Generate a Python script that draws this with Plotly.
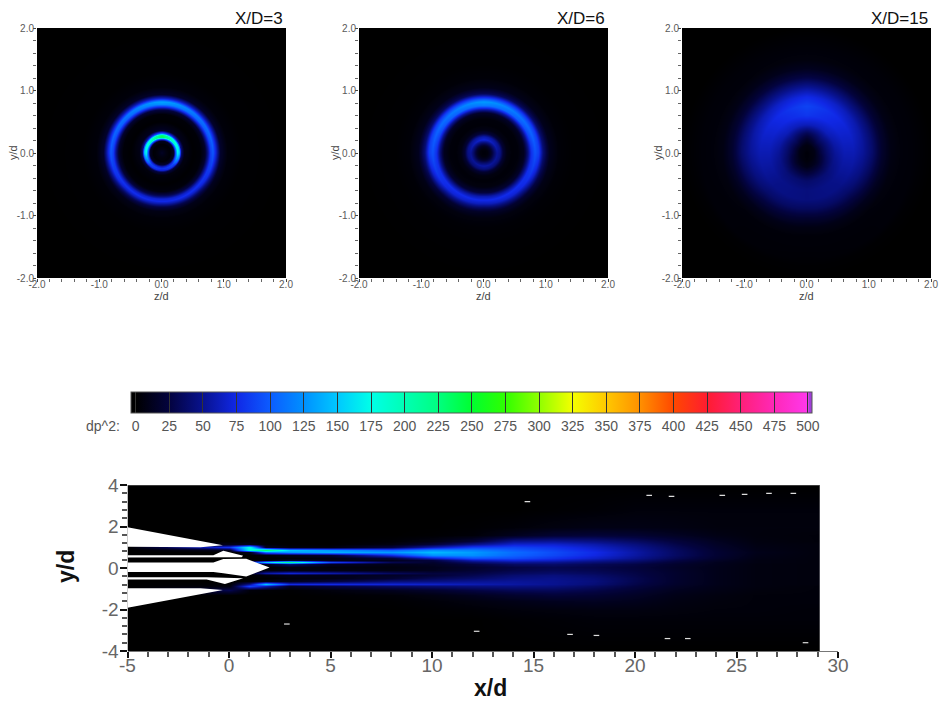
import numpy as np
import plotly.graph_objects as go

W, H = 939, 702

# ---------- colour scale ----------
cbar_levels = [-3.5, 0, 25, 50, 75, 100, 125, 150, 175, 200, 225, 250, 275, 300, 325, 350, 375, 400, 425, 450, 475, 500, 501, 503]
cbar_colors = ["#000000", "#000000", "#03033f", "#08128f", "#1028e6", "#0c5cff", "#0090ff", "#00c8ff", "#00ffe8", "#00ffb4", "#00ff80",
               "#00ff30", "#30ff00", "#90ff00", "#f4ff00", "#ffc800", "#ff9000", "#ff4800", "#ff1c30", "#ff2078", "#ff28b8", "#ff38ec", "#a040d8", "#a040d8"]
legend_ticks = list(range(0, 501, 25))

# ---------- cross-section panels: values read per radius (rows: angle from top, 0/45/90/135/180 deg) ----------
panel_titles = ["X/D=3", "X/D=6", "X/D=15"]
angles_deg = [0, 45, 90, 135, 180]

radii_3 = [0, .08, .14, .19, .22, .25, .28, .31, .36, .5, .62, .69, .74, .78, .82, .87, .94, 1.05, 1.25, 2]
prof_3 = [
    [14, 5, 2, 12, 90, 240, 235, 110, 15, 1, 3, 25, 80, 125, 135, 70, 16, 4, 1, 0],
    [14, 5, 2, 12, 90, 195, 175, 65, 12, 1, 3, 20, 70, 105, 112, 65, 16, 4, 1, 0],
    [14, 5, 2, 15, 100, 170, 150, 40, 8, 1, 3, 15, 50, 85, 98, 68, 18, 4, 1, 0],
    [14, 5, 3, 15, 70, 92, 80, 25, 5, 1, 4, 25, 62, 80, 65, 35, 10, 3, 1, 0],
    [14, 5, 4, 20, 60, 80, 70, 25, 5, 1, 5, 35, 70, 75, 55, 25, 8, 3, 1, 0],
]

radii_6 = [0, .06, .11, .16, .21, .26, .31, .37, .45, .55, .64, .7, .76, .82, .88, .95, 1.05, 1.2, 1.4, 2]
prof_6 = [
    [3, 5, 15, 40, 72, 58, 24, 8, 3, 4, 16, 60, 115, 130, 85, 32, 10, 3, 1, 0],
    [3, 5, 15, 38, 62, 52, 22, 8, 3, 4, 15, 52, 100, 112, 85, 35, 10, 3, 1, 0],
    [3, 5, 15, 35, 52, 46, 20, 7, 3, 4, 12, 40, 78, 95, 85, 42, 12, 3, 1, 0],
    [3, 5, 14, 34, 52, 42, 18, 6, 3, 5, 18, 50, 78, 72, 48, 20, 6, 2, 1, 0],
    [3, 5, 15, 38, 56, 44, 18, 6, 3, 6, 25, 60, 76, 60, 34, 14, 5, 2, 1, 0],
]

radii_15 = [0, .12, .22, .32, .45, .6, .75, .9, 1.05, 1.2, 1.35, 1.5, 1.7, 1.8, 2]
prof_15 = [
    [3, 6, 16, 32, 62, 82, 88, 75, 52, 28, 12, 5, 3, 2, 0],
    [3, 8, 28, 42, 62, 72, 74, 62, 42, 22, 9, 4, 3, 2, 0],
    [3, 8, 25, 38, 52, 60, 60, 52, 38, 18, 7, 4, 3, 2, 0],
    [3, 6, 14, 28, 42, 48, 47, 38, 24, 10, 4, 3, 3, 1, 0],
    [3, 4, 8, 22, 38, 44, 44, 34, 18, 7, 3, 3, 2, 1, 0],
]

# ---------- longitudinal panel: value table ----------
long_x = [-5, 0, 1, 1.8, 3, 5, 8, 10, 12, 14, 16, 18, 20, 22, 24, 26, 29.1]
long_y = [-4, -2.5, -2, -1.6, -1.3, -1.05, -.88, -.76, -.65, -.5, -.35, -.22, -.08, .05, .18, .28, .38, .5, .65, .78, .88, 1, 1.15, 1.3, 1.6, 2, 2.8, 4]
long_z = [
    [0, 0, 0, 0, 0, 0, 0, 0, 0, 0, 0, 0, 0, 0, 0, 0, 0],
    [0, 0, 0, 0, 0, 0, 0, 0, 0, 1, 2, 3, 3, 3, 3, 3, 3],
    [0, 0, 0, 0, 0, 0, 0, 1, 2, 4, 5, 6, 6, 5, 4, 4, 3],
    [0, 0, 0, 0, 0, 0, 1, 3, 6, 9, 12, 13, 11, 7, 5, 4, 4],
    [0, 0, 0, 0, 0, 1, 3, 7, 12, 18, 22, 20, 15, 9, 6, 4, 4],
    [0, 30, 4, 2, 1, 5, 12, 18, 26, 32, 33, 28, 20, 12, 8, 5, 4],
    [0, 5, 90, 60, 15, 25, 35, 40, 44, 46, 44, 36, 25, 15, 9, 6, 4],
    [0, 2, 50, 150, 75, 75, 70, 66, 60, 55, 50, 42, 28, 17, 10, 6, 5],
    [0, 0, 2, 8, 12, 24, 42, 45, 50, 52, 50, 44, 30, 18, 10, 6, 5],
    [0, 0, 0, 0, 5, 8, 20, 32, 38, 46, 48, 42, 30, 18, 10, 6, 5],
    [0, 0, 1, 5, 10, 10, 15, 22, 30, 40, 44, 38, 28, 18, 10, 6, 5],
    [0, 0, 10, 55, 70, 58, 34, 24, 26, 34, 38, 34, 27, 18, 10, 6, 5],
    [0, 0, 0, 5, 6, 7, 8, 12, 20, 28, 32, 30, 25, 17, 10, 6, 5],
    [0, 0, 0, 0, 6, 4, 6, 11, 18, 26, 30, 28, 24, 16, 10, 6, 5],
    [0, 0, 2, 10, 40, 12, 10, 14, 25, 36, 38, 32, 27, 18, 11, 6, 5],
    [0, 0, 60, 150, 215, 90, 30, 18, 40, 52, 50, 42, 34, 22, 12, 7, 5],
    [0, 0, 2, 1, 15, 8, 12, 25, 62, 72, 66, 54, 42, 27, 15, 7, 5],
    [0, 0, 0, 0, 2, 6, 22, 65, 95, 92, 80, 66, 50, 32, 18, 8, 5],
    [0, 0, 0, 3, 10, 20, 75, 125, 125, 104, 90, 74, 55, 36, 20, 9, 5],
    [0, 0, 10, 110, 130, 140, 130, 145, 130, 108, 92, 76, 56, 36, 20, 10, 5],
    [0, 10, 180, 230, 150, 130, 105, 125, 118, 100, 88, 72, 54, 35, 19, 9, 5],
    [0, 80, 180, 15, 5, 5, 25, 60, 85, 88, 80, 66, 50, 32, 17, 8, 5],
    [0, 10, 10, 2, 0, 0, 6, 22, 48, 68, 68, 58, 44, 28, 15, 7, 5],
    [0, 0, 2, 0, 0, 0, 2, 8, 22, 50, 52, 46, 36, 24, 13, 6, 4],
    [0, 0, 0, 0, 0, 0, 0, 1, 3, 12, 20, 22, 20, 14, 8, 5, 4],
    [0, 0, 0, 0, 0, 0, 0, 0, 1, 3, 6, 8, 8, 7, 5, 5, 5],
    [0, 0, 0, 0, 0, 0, 0, 0, 0, 0, 1, 2, 4, 4, 4, 4, 4],
    [0, 0, 0, 0, 0, 0, 0, 0, 0, 0, 0, 0, 0, 0, 0, 0, 0],
]

# nozzle solids (white) in x/d, y/d
nozzle_parts = [
    ([-5, -0.3, -1.4, -5], [1.96, 1.1, 1.0, 1.03]),
    ([-5, -0.3, -1.4, -5], [-1.92, -1.06, -0.98, -0.98]),
    ([-5, -0.77, -0.28, 0.7, 0.62, -0.77, -5], [0.62, 0.62, 0.83, 0.59, 0.52, 0.51, 0.51]),
    ([-5, -1.1, 0.7, -0.2, -1.1, -5], [-0.44, -0.44, -0.49, -0.77, -0.56, -0.56]),
    ([-5, -0.77, -0.28, 0.85, 2.0, 0.85, -0.28, -0.77, -5], [0.27, 0.27, 0.43, 0.44, 0.02, -0.41, -0.25, -0.19, -0.19]),
]
speck_x = [14.7, 20.7, 21.8, 24.3, 25.4, 26.6, 27.8, 12.2, 16.8, 18.1, 21.6, 22.6, 28.4, 2.85]
speck_y = [3.2, 3.5, 3.45, 3.5, 3.55, 3.6, 3.6, -3.05, -3.2, -3.25, -3.4, -3.4, -3.6, -2.7]
field_end = 29.1


def dom_x(a, b):
    return [a / W, b / W]


def dom_y(top, bottom):
    return [1 - bottom / H, 1 - top / H]


def polar_table_to_grid(radii, table, n=250):
    # Display resampling only: the typed polar table cannot be stored directly on a Cartesian heatmap.
    c = np.linspace(-2, 2, n)
    zz, yy = np.meshgrid(c, c)
    rr = np.hypot(zz, yy)
    th = np.degrees(np.arctan2(np.abs(zz), yy))
    stack = np.stack([np.interp(rr, radii, row) for row in table])
    idx = np.clip(np.searchsorted(angles_deg, th, side="right") - 1, 0, len(angles_deg) - 2)
    a0 = np.array(angles_deg)[idx]
    t = (th - a0) / 45.0
    ii, jj = np.indices(rr.shape)
    return c, stack[idx, ii, jj] * (1 - t) + stack[idx + 1, ii, jj] * t


fig = go.Figure()
layout = {}
panel_boxes = [(37, 286), (359, 608), (682, 931)]
panel_tables = [(radii_3, prof_3), (radii_6, prof_6), (radii_15, prof_15)]
small_ticks = [-2, -1, 0, 1, 2]
small_text = ["-2.0", "-1.0", "0.0", "1.0", "2.0"]
grey = "#5a5a5a"
annotations = []

for i, ((x0, x1), (rad, tab), name) in enumerate(zip(panel_boxes, panel_tables, panel_titles), start=1):
    c, zgrid = polar_table_to_grid(rad, tab)
    fig.add_trace(go.Heatmap(x=c, y=c, z=zgrid, coloraxis="coloraxis", xaxis=f"x{i}", yaxis=f"y{i}",
                             hovertemplate=name + " z/d %{x:.2f} y/d %{y:.2f} dp^2 %{z:.0f}<extra></extra>"))
    common = dict(range=[-2, 2], tickvals=small_ticks, ticktext=small_text, ticks="outside", ticklen=3, tickcolor="#444",
                  tickfont=dict(family="Liberation Sans", size=10, color=grey), showgrid=False, zeroline=False,
                  showline=False, minor=dict(dtick=0.2, tick0=0, ticks="outside", ticklen=3, tickcolor="#666"))
    layout[f"xaxis{i}"] = dict(common, domain=dom_x(x0, x1), anchor=f"y{i}", tickangle=0, ticklabelstandoff=-6)
    layout[f"yaxis{i}"] = dict(common, domain=dom_y(28, 278), anchor=f"x{i}", ticklabelstandoff=-3)
    annotations.append(dict(text="z/d", x=(x0 + x1) / 2 / W, y=1 - 296 / H, xref="paper", yref="paper", showarrow=False,
                            xanchor="center", yanchor="middle", font=dict(family="Liberation Sans", size=11, color="#444")))
    annotations.append(dict(text="y/d", x=(x0 - 24) / W, y=1 - 153 / H, xref="paper", yref="paper", showarrow=False, textangle=-90,
                            xanchor="center", yanchor="middle", font=dict(family="Liberation Sans", size=11, color="#444")))
    annotations.append(dict(text=name, x=(x1 - 1) / W, y=1 - 18 / H, xref="paper", yref="paper", xanchor="right", yanchor="middle",
                            showarrow=False, font=dict(family="Liberation Sans", size=17, color="#111")))

fig.add_trace(go.Heatmap(x=long_x, y=long_y, z=long_z, zsmooth="best", coloraxis="coloraxis", xaxis="x4", yaxis="y4",
                         hovertemplate="x/d %{x:.1f} y/d %{y:.2f} dp^2 %{z:.0f}<extra></extra>"))
for nx, ny in nozzle_parts:
    fig.add_trace(go.Scatter(x=nx, y=ny, mode="lines", fill="toself", fillcolor="white", line=dict(width=0, color="white"),
                             hoverinfo="skip", showlegend=False, xaxis="x4", yaxis="y4"))
fig.add_trace(go.Scatter(x=[field_end, 30, 30, field_end], y=[-4, -4, 4, 4], mode="lines", fill="toself", fillcolor="white",
                         line=dict(width=0, color="white"), hoverinfo="skip", showlegend=False, xaxis="x4", yaxis="y4"))
fig.add_trace(go.Scatter(x=[-5, field_end], y=[4, 4], mode="lines", line=dict(width=1, color="#777"), cliponaxis=False,
                         hoverinfo="skip", showlegend=False, xaxis="x4", yaxis="y4"))
fig.add_trace(go.Scatter(x=speck_x, y=speck_y, mode="markers", hoverinfo="skip", showlegend=False, xaxis="x4", yaxis="y4",
                         marker=dict(symbol="line-ew-open", size=4, color="#dddddd", line=dict(width=1.2, color="#dddddd"))))

long_tick_font = dict(family="Liberation Sans", size=19, color="#666666")
layout["xaxis4"] = dict(domain=dom_x(127.5, 838), anchor="y4", range=[-5, 30], tickvals=list(range(-5, 31, 5)),
                        ticktext=["-5", "0", "5", "10", "15", "20", "25", "30"], ticks="outside", ticklen=6, tickwidth=2, tickcolor="#111",
                        tickfont=long_tick_font, showgrid=False, zeroline=False, showline=True, linecolor="#777", linewidth=1,
                        minor=dict(dtick=1, tick0=0, ticks="outside", ticklen=5, tickcolor="#555"), tickangle=0, ticklabelstandoff=-9)
layout["yaxis4"] = dict(domain=dom_y(485, 651), anchor="x4", range=[-4, 4], tickvals=[-4, -2, 0, 2, 4],
                        ticktext=["-4", "-2", "0", "2", "4"], ticks="outside", ticklen=7, tickwidth=2, tickcolor="#111",
                        tickfont=long_tick_font, showgrid=False, zeroline=False, showline=False,
                        minor=dict(dtick=0.4, tick0=0, ticks="outside", ticklen=5, tickcolor="#555"), ticklabelstandoff=-3)
annotations.append(dict(text="<b>x/d</b>", x=490 / W, y=1 - 688 / H, xref="paper", yref="paper", showarrow=False,
                        xanchor="center", yanchor="middle", font=dict(family="Liberation Sans", size=23, color="#111")))
annotations.append(dict(text="<b>y/d</b>", x=66 / W, y=1 - 567 / H, xref="paper", yref="paper", showarrow=False, textangle=-90,
                        xanchor="center", yanchor="middle", font=dict(family="Liberation Sans", size=23, color="#111")))

vmin, vmax = cbar_levels[0], cbar_levels[-1]
scale = [[(v - vmin) / (vmax - vmin), col] for v, col in zip(cbar_levels, cbar_colors)]
layout["coloraxis"] = dict(
    cmin=vmin, cmax=vmax, colorscale=scale,
    colorbar=dict(orientation="h", x=131 / W, xanchor="left", lenmode="pixels", len=681, thicknessmode="pixels", thickness=21,
                  y=1 - 392 / H, yanchor="top", xpad=0, ypad=0, outlinewidth=1, outlinecolor="#555",
                  tickmode="array", tickvals=legend_ticks, ticktext=[str(v) for v in legend_ticks],
                  ticks="inside", ticklen=21, tickwidth=1, tickcolor="#333",
                  tickfont=dict(family="Liberation Sans", size=14, color="#555555")))

annotations.append(dict(text="dp^2:", x=122 / W, y=1 - 426 / H, xref="paper", yref="paper", xanchor="right", yanchor="middle",
                        showarrow=False, font=dict(family="Liberation Sans", size=14, color="#555555")))

fig.update_layout(width=W, height=H, margin=dict(l=0, r=0, t=0, b=0, autoexpand=False), paper_bgcolor="white",
                  plot_bgcolor="white", showlegend=False, annotations=annotations, **layout)
fig.write_html("out.html", config={"displayModeBar": False}, post_script="document.body.style.margin='0';")
